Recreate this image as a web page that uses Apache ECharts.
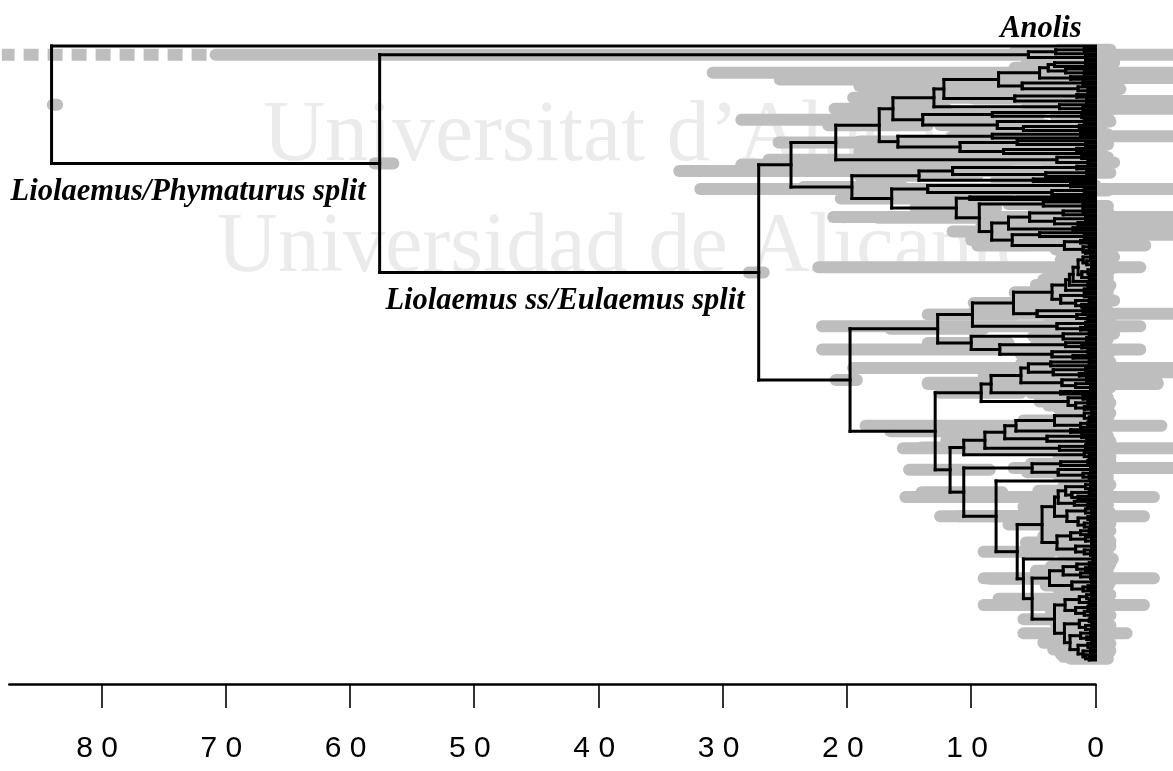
<!DOCTYPE html>
<html>
<head>
<meta charset="utf-8">
<title>Liolaemidae chronogram</title>
<script src="https://cdn.jsdelivr.net/npm/echarts@6/dist/echarts.min.js"></script>
<style>
  html, body { margin: 0; padding: 0; background: #fff; }
  #chart { width: 1173px; height: 771px; }
</style>
</head>
<body>
<div id="chart"></div>
<script>
// Time axis (Ma before present)
const tickValues = [0, 10, 20, 30, 40, 50, 60, 70, 80];
const tickLabels = ['0', '1 0 ', '2 0 ', '3 0 ', '4 0 ', '5 0 ', '6 0 ', '7 0 ', '8 0 '];

// Clades in Newick-like notation: * = terminal, (..)age[lowHPD,highHPD(,dashedExtent)]{label}
const PHYMATURUS = "(((*,*)0.9[-1.2,3.0],*)3.2[0.6,6.5],(*,*)0.8[-1.5,3.2])5.4[-6.3,70.8,88]";

// Liolaemus sensu stricto
const A7a1 = "((*,*)0.8[-1.5,2.6],*)3.3[1.2,5.6]";
const A7a2 = "(*,(*,*)0.9[-0.8,2.8])2.4[0.2,4.8]";
const A7b = "(*,*)2.0[-6.3,4.0]";
const A8 = "((*,*)1.0[-1.5,3.2],(*,(*,*)0.6[-1.0,2.2])1.4[-0.5,3.8])5.9[-1.5,19.0]";
const A5L = "((*,*)1.5[-0.5,3.8],(*,*)0.7[-6.3,2.6])6.5[3.5,9.8]";
const A4L = "(*,(*,*)1.0[-6.3,3.0])2.9[0.8,5.5]";
const A3La = "(*,(*,*)1.1[-1,3.2])8.3[4.5,12]";
const A3Lb = "((*,*)0.9[-1.2,3],((*,*)1.3[-0.5,3.5],*)5.8[2.5,9.5])7.9[4,12.5]";
const A2La = "((*,*)1.2[-1,3.4],*)8.3[-6.3,11.5]";
const A2Lb = "((*,(*,*)0.8[-1,2.6])6.3[3,9.5],((*,*)1.5[-0.5,3.8],*)7.4[4,19])10.9[7,14.5]";
const A1L = "((*,*)1.1[-1,3.2],(*,*)0.6[-1.5,2.4])3.1[-1,26.3]";
const B1Ua = "((*,*)1.5[-0.5,3.8],((*,*)0.7[-1.2,2.6],*)4.0[1.5,6.8])11.5[6.9,33.5]";
const B1Ub = "(*,*)5.0[2,8]";
const B2U = "((*,*)2.0[0,4.5],((*,*)0.9[-1,2.8],*)3.5[1,6])13.5[-6.3,31.8]";
const B3U = "(*,*)10.1[7,13.5]";
const B4U = "(*,(*,*)1.0[-1,3.2])4.2[1.5,7]";
const B6a = "(((*,*)1.0[-1,3],*)2.6[0.5,5],((*,*)0.8[-1.2,2.8],(*,*)1.4[-0.5,3.6])3.3[1,5.8])5.3[-6.3,21.1]";
const B6b = "(*,*)1.8[-0.5,4]";
const B7a = "(*,(*,*)0.9[-1,2.8])4.5[-6.3,9.5]";
const B7b = "((*,*)1.2[-1,3.4],((*,*)0.5[-1.5,2.2],(*,*)0.8[-1,2.8])1.0[-0.8,3.2])2.5[-4,9.5]";

const A7 = `((${A7a1},${A7a2})3.8[1.5,6.5],${A7b})4.5[-6.3,30.8]`;
const A6 = `(${A7},${A8})7.8[2.5,25.4]`;
const A5 = `(${A6},${A5L})12.2[-2,16]`;
const A4 = `(${A5},${A4L})13.0[8.5,19.5]`;
const A3 = `(${A4},(${A3La},${A3Lb})13.9[9.5,28.5])16.3[12,21]`;
const A2 = `(${A3},(${A2La},${A2Lb})15.9[-1,19])17.4[13.5,21.5]`;
const A1 = `(${A2},${A1L})20.9[16.5,25.5]`;
const B5 = `((${B6a},${B6b})7.0[-6.3,9.2],(${B7a},${B7b})6.7[3.5,10])8.35[5,11.5]`;
const B3 = `(${B3U},(${B4U},${B5})9.35[6.5,17.5])11.2[8,14.5]`;
const B1 = `((${B1Ua},${B1Ub})14.2[9.5,19],(${B2U},${B3})16.4[12.5,20.5])19.6[15.5,23.5]`;
const LIOLAEMUS_SS = `(${A1},${B1})24.5[20.5,28.5]`;

// Eulaemus
const C1a = "((*,*)0.4[-1.5,1.8],(*,(*,*)0.3[-1.2,1.5])0.7[-1,2.2])1.0[-0.8,2.8]";
const C1b = "(((*,*)0.3[-1.2,1.6],*)0.6[-1,2],(*,*)0.5[-1,2.2])1.1[-0.8,3]";
const E4L = "((*,*)0.9[-1,3],((*,*)0.5[-1.5,2.2],(*,*)1.1[-0.8,3.2])1.6[-0.5,3.8])2.8[0.5,5.5]";
const E3L = "((*,*)1.0[-1,3.2],(*,(*,*)0.6[-1.2,2.4])1.5[-0.5,3.8])4.7[-6.3,10]";
const E2L = "((*,*)0.8[-1.2,2.8],(*,*)1.2[-0.8,3.4])3.1[-3.6,22]";
const E1La = "((*,*)0.5[-1.5,2],(*,*)0.7[-1,2.5])2.6[0.3,5]";
const E1Lb = "((*,(*,*)1.1[-0.8,3])2.4[0,4.8],((*,*)0.6[-1.2,2.4],(*,*)1.8[-0.5,4])3.5[1,6])7.7[-3.6,22]";
const F3a = "(((*,*)0.5[-1.2,2.2],*)3.6[1,6],((*,*)0.8[-1,2.8],(*,*)1.3[-0.5,3.4])3.4[-6.3,6])5.4[-6.3,19.5]";
const F3b = "((*,*)0.7[-1,2.6],(*,(*,*)0.4[-1.2,1.8])1.6[-0.5,3.8])2.7[-5,13.5]";
const F2L = "(*,*)2.8[0.5,5.2]";
const F1L = "((*,*)1.0[-1,3],((*,*)0.6[-1.2,2.4],(*,*)0.9[-1,3])1.6[-0.5,3.8])2.2[0,4.5]";
const F7au = "(((*,*)0.3[-1.2,1.6],(*,*)0.5[-1,2])0.9[-0.8,2.8],((*,*)0.6[-1,2.2],*)1.2[-0.6,3.2])3.3[1,5.8]";
const F7b = "((*,*)1.1[-1,3.2],(*,*)0.7[-1.2,2.6])3.9[1.5,6.5]";
const F6L = "((*,*)0.8[-1,2.8],*)2.9[-6.3,15.5]";
const F5L = "(*,(*,*)0.5[-1.2,2])0.9[-1,3]";
const F8U = "(((*,*)0.6[-1.2,2.4],*)2.8[0.5,5.2],((*,*)0.4[-1.2,1.8],(*,(*,*)0.5[-1,2])1.0[-0.8,3])3.0[0.8,5.5])5.1[-6.3,6.6]";
const F11au = "((((*,*)0.4[-1.2,1.8],*)0.8[-1,2.6],((*,*)0.5[-1,2.2],(*,*)1.4[-0.6,3.4])1.9[0,4])2.4[0.2,4.6],(*,(*,*)0.6[-1,2.4])1.7[-0.3,3.8])3.0[-4.7,15.3]";
const F11al = "((*,(*,*)0.3[-1.2,1.5])0.8[-1,2.6],((*,*)0.6[-1,2.2],((*,*)0.4[-1.2,1.8],*)0.9[-0.8,2.8])1.4[-0.5,3.4])2.3[-3.9,12.5]";
const F11b = "((((*,*)0.5[-1.2,2.2],*)1.2[-0.6,3.2],(*,(*,*)0.3[-1.2,1.6])0.8[-0.8,2.6])2.0[0,4.2],((*,*)0.3[-1.2,1.6],(*,(*,*)0.4[-1,1.8])0.9[-0.8,2.8])1.6[-0.4,3.8])3.1[0.8,5.6]";
const F12U = "(*,*)0.2[-1.4,1.6]";
const F13a = "((((*,*)0.5[-1.2,2],(*,*)0.8[-1,2.8])1.5[-0.5,3.6],(*,(*,*)0.4[-1.1,1.9])1.2[-0.6,3.1])2.6[0.3,4.8],((*,*)0.3[-1.2,1.6],((*,*)0.6[-1,2.4],*)1.0[-0.8,3])1.9[0,4])3.7[-4.7,9]";
const F14U = "((((*,*)0.3[-1.2,1.6],*)0.7[-1,2.4],(*,*)0.5[-1,2.2])1.3[-0.6,3.2],((*,*)0.6[-1,2.4],(*,(*,*)0.4[-1.2,1.8])0.9[-0.8,2.8])1.6[-0.4,3.6])2.45[-3.9,9]";
const F14L = "(((*,*)0.5[-1,2.2],((*,*)0.3[-1.2,1.5],*)0.8[-0.8,2.6])1.3[-0.6,3.2],(((*,*)0.4[-1.2,1.8],(*,*)0.7[-1,2.4])1.2[-0.6,3],(((*,*)0.3[-1.2,1.5],*)0.6[-1,2.2],((*,*)0.4[-1.2,1.8],(*,(*,*)0.5[-1,2])0.8[-0.8,2.6])1.0[-0.7,2.8])1.4[-0.4,3.4])2.05[-0.2,4.2])2.5[-2.5,5.8]";

const E4U = `((((${C1a},${C1b})1.4[-3.6,22.3],*)1.8[-0.5,3.8],(*,*)0.6[-1.2,2.4])2.1[0,4.2],(*,*)0.9[-1,3])2.4[0.3,4.8]`;
const E4 = `(${E4U},${E4L})3.5[1,6.5]`;
const E3 = `(${E4},${E3L})6.6[3.5,9.8]`;
const E2 = `(${E3},${E2L})9.9[6.5,13.5]`;
const E1 = `(${E2},(${E1La},${E1Lb})10.0[7,13.5])12.7[9,16.5]`;
const F1 = `(((${F3a},${F3b})6.0[3,9],${F2L})8.4[-5,13.5],${F1L})9.2[6,12.5]`;
const F5 = `((((${F7au},(*,*)2.0[0,4.2])6.4[-5.3,18.5],${F7b})7.3[4.5,10.5],${F6L})8.9[6,12],${F5L})10.6[7.5,14]`;
const F11 = `((${F11au},${F11al})3.3[1,5.8],${F11b})4.3[2,7]`;
const F13 = `(${F13a},(${F14U},${F14L})3.3[1,5.8])5.1[2.5,7.8]`;
const F10 = `(${F11},(${F12U},${F13})5.8[3,8.5])6.3[3.5,9]`;
const F8 = `(${F8U},(*,${F10})8.0[5,11])10.6[7.5,14]`;
const F0 = `(${F1},(${F5},${F8})11.7[8.5,15])12.9[9.5,16.5]`;
const EULAEMUS = `(${E1},${F0})19.75[19.2,20.9]`;

const LIOLAEMUS = `(${LIOLAEMUS_SS},${EULAEMUS})27.1[26.7,27.9]{Liolaemus ss/Eulaemus split}`;
const LIOLAEMIDAE = `(${PHYMATURUS},${LIOLAEMUS})57.6[56.5,58.0]{Liolaemus/Phymaturus split}`;
const TREE = `(*{Anolis},${LIOLAEMIDAE})84.0[83.55,83.9]`;

// ---- parse ----
function parseTree(str) {
  let pos = 0;
  function readNumber() {
    const m = /^-?[0-9.]+/.exec(str.slice(pos));
    pos += m[0].length;
    return parseFloat(m[0]);
  }
  function node() {
    const n = { children: [], age: 0 };
    if (str[pos] === '(') {
      pos++;
      n.children.push(node());
      while (str[pos] === ',') { pos++; n.children.push(node()); }
      pos++; // ')'
      n.age = readNumber();
      if (str[pos] === '[') {
        const end = str.indexOf(']', pos);
        n.hpd = str.slice(pos + 1, end).split(',').map(Number);
        pos = end + 1;
      }
    } else if (str[pos] === '*') {
      pos++;
    }
    if (str[pos] === '{') {
      const end = str.indexOf('}', pos);
      n.name = str.slice(pos + 1, end);
      pos = end + 1;
    }
    return n;
  }
  return node();
}

const root = parseTree(TREE);
const nodes = [];
let tipCount = 0;
(function place(n, parentAge) {
  n.parentAge = parentAge;
  if (!n.children.length) {
    n.y = tipCount++;
    n.yTop = n.yBot = n.y;
  } else {
    n.children.forEach(c => place(c, n.age));
    const ys = n.children.map(c => c.y);
    n.yTop = Math.min(...ys);
    n.yBot = Math.max(...ys);
    n.y = (n.yTop + n.yBot) / 2;
  }
  nodes.push(n);
})(root, root.age);

const branchData = nodes.map(n => [n.age, n.parentAge, n.y, n.yTop, n.yBot]);
const hpdNodes = nodes.filter(n => n.hpd);
const hpdData = hpdNodes.map(n => [n.hpd[0], n.hpd[1], n.y, n.hpd.length > 2 ? n.hpd[2] : NaN]);
const labelNodes = nodes.filter(n => n.name);
const labelData = labelNodes.map(n => [n.age, n.y]);

// tip 0 sits at 46px and the last tip at 660px inside a grid running to the axis at 684px
const yMax = (tipCount - 1) * (684 - 46) / (660 - 46);

const BAR = '#bebebe';
const chart = echarts.init(document.getElementById('chart'), null, { renderer: 'canvas' });

chart.setOption({
  animation: false,
  backgroundColor: '#ffffff',
  grid: { left: 9.3, right: 77.5, top: 46, bottom: 87, containLabel: false, outerBoundsMode: 'none' },
  xAxis: {
    type: 'value', inverse: true, min: 0, max: 87.4, interval: 10,
    position: 'bottom',
    axisLine: { show: true, onZero: false, lineStyle: { color: '#000', width: 2.6 } },
    axisTick: { show: true, length: 24, customValues: tickValues, lineStyle: { color: '#000', width: 1.6 } },
    axisLabel: {
      show: true, customValues: tickValues, margin: 50,
      fontFamily: '"Liberation Sans", Arial, sans-serif', fontSize: 30, color: '#000',
      formatter: v => { const i = tickValues.indexOf(Math.round(v)); return i >= 0 ? tickLabels[i] : ''; }
    },
    splitLine: { show: false }
  },
  yAxis: { type: 'value', inverse: true, min: 0, max: yMax, show: false },
  graphic: [
    { type: 'text', z: -10, silent: true,
      style: { x: 263, y: 137, text: 'Universitat d\u2019Alacant', verticalAlign: 'middle',
               font: '86px "Liberation Serif", "Times New Roman", serif', fill: '#ebebeb' } },
    { type: 'text', z: -10, silent: true,
      style: { x: 217, y: 249, text: 'Universidad de Alicante', verticalAlign: 'middle',
               font: '84px "Liberation Serif", "Times New Roman", serif', fill: '#ebebeb' } }
  ],
  series: [
    {
      name: 'HPD', type: 'custom', coordinateSystem: 'cartesian2d', clip: false, z: 2,
      data: hpdData,
      renderItem: function (params, api) {
        const lo = api.value(0), hi = api.value(1), y = api.value(2), ext = api.value(3);
        const a = api.coord([hi, y]), b = api.coord([lo, y]);
        const kids = [{ type: 'line', shape: { x1: a[0], y1: a[1], x2: b[0], y2: b[1] },
                        style: { stroke: BAR, lineWidth: 12, lineCap: 'round' } }];
        if (!isNaN(ext)) {
          const e = api.coord([ext, y]);
          kids.push({ type: 'line', shape: { x1: a[0] - 9, y1: a[1], x2: e[0], y2: e[1] },
                      style: { stroke: BAR, lineWidth: 12, lineCap: 'butt', lineDash: [15, 9] } });
        }
        return { type: 'group', children: kids };
      }
    },
    {
      name: 'branches', type: 'custom', coordinateSystem: 'cartesian2d', clip: false, z: 3,
      data: branchData,
      renderItem: function (params, api) {
        const age = api.value(0), pAge = api.value(1), y = api.value(2), yTop = api.value(3), yBot = api.value(4);
        const p = api.coord([age, y]), pp = api.coord([pAge, y]);
        const st = { stroke: '#000', lineWidth: 3, lineCap: 'square' };
        const kids = [];
        if (pAge > age) kids.push({ type: 'line', shape: { x1: pp[0], y1: p[1], x2: p[0], y2: p[1] }, style: st });
        if (yBot > yTop) {
          const t = api.coord([age, yTop]), b = api.coord([age, yBot]);
          kids.push({ type: 'line', shape: { x1: t[0], y1: t[1], x2: b[0], y2: b[1] }, style: st });
        }
        return { type: 'group', children: kids };
      }
    },
    {
      name: 'labels', type: 'custom', coordinateSystem: 'cartesian2d', clip: false, z: 4,
      data: labelData,
      renderItem: function (params, api) {
        const n = labelNodes[params.dataIndex];
        const p = api.coord([api.value(0), api.value(1)]);
        const isTip = !n.children.length;
        return {
          type: 'text',
          style: {
            x: p[0] - 14, y: isTip ? p[1] - 17 : p[1] + 29,
            text: n.name, align: 'right', verticalAlign: 'middle',
            font: 'italic bold 30.5px "Liberation Serif", "Times New Roman", serif', fill: '#000'
          }
        };
      }
    }
  ]
});
</script>
</body>
</html>
